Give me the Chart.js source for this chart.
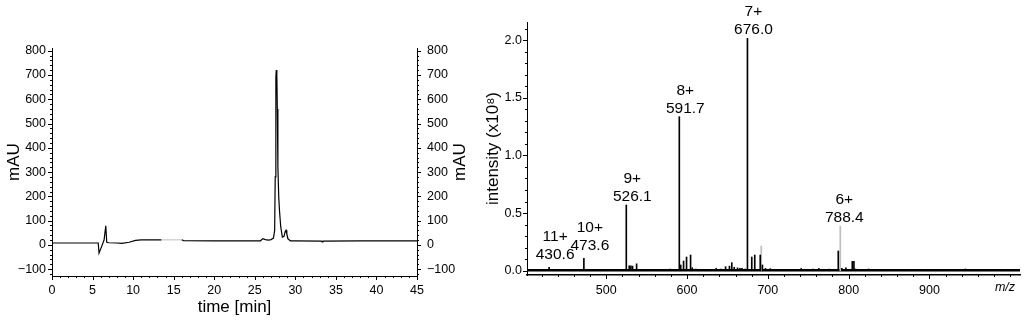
<!DOCTYPE html>
<html>
<head>
<meta charset="utf-8">
<script src="https://cdn.jsdelivr.net/npm/chart.js@4/dist/chart.umd.min.js"></script>
<style>
  body { margin: 0; background: #fff; width: 1024px; height: 322px; position: relative; overflow: hidden; }
  #lc { position: absolute; left: 0; top: 0; width: 480px; height: 322px; }
  #ms { position: absolute; left: 480px; top: 0; width: 544px; height: 322px; }
</style>
</head>
<body>
<div id="lc"><canvas id="lcChart"></canvas></div>
<div id="ms"><canvas id="msChart"></canvas></div>
<script>
// HPLC trace (time in min, absorbance in mAU)
const lcTime = [0, 2, 4, 5.7, 5.8, 6.1, 6.42, 6.63, 6.75, 7, 8, 8.6, 9.5, 10.3, 11, 13.5, 16, 16.2, 20, 25.7,
  26.0, 26.3, 26.7, 27.0, 27.3, 27.45, 27.52, 27.6, 27.65, 27.72, 27.78, 27.85, 27.95, 28.05, 28.2, 28.4,
  28.6, 28.75, 28.85, 28.95, 29.1, 29.4, 30, 33.2, 33.3, 33.4, 38, 45];
const lcAbs = [8, 8, 8, 8, -34, -8, 20, 79, 11, 9, 8, 6, 11, 19, 21, 21, 21, 18, 17, 17,
  26, 22, 20, 22, 28, 60, 280, 690, 720, 700, 560, 320, 200, 140, 75, 32,
  35, 55, 60, 45, 25, 17, 17, 16, 12, 16, 17, 17];
const lcXTicks = [0, 5, 10, 15, 20, 25, 30, 35, 40, 45];
const lcYTicks = [-100, 0, 100, 200, 300, 400, 500, 600, 700, 800];

// mass spectrum (m/z, intensity x1e8)
const msPeakMz = [430.6, 473.6, 526.1, 591.7, 676.0, 788.4];
const msPeakInt = [0.03, 0.107, 0.57, 1.336, 2.015, 0.171];
const msPeakCharge = ['11+', '10+', '9+', '8+', '7+', '6+'];
const msMinorMz = [408, 414, 419, 425, 436, 443, 449, 456, 462, 468, 479, 485, 491, 497, 504, 511, 517, 521,
  528.5, 530.6, 532.6, 537.6, 544, 551, 558, 566, 573, 579, 586, 592.2, 595.7, 599.4, 604.4, 606.5, 611,
  618, 625, 631, 636.1, 642, 647.7, 652.5, 655.4, 658.4, 662.5, 665.5, 668, 672, 680.1, 683.8, 690.6, 693.3,
  697, 703, 710, 717, 724, 731, 741.3, 748, 756, 763, 769, 776, 783, 791.6, 796.6, 804.5, 806.5, 808.6, 816,
  824.7, 833, 842, 851, 860, 869, 878, 887, 896, 905, 914, 923, 932, 944.4, 951, 958, 965, 973, 981, 990, 998, 1006];
const msMinorInt = [0.008, 0.01, 0.007, 0.012, 0.009, 0.008, 0.011, 0.007, 0.01, 0.008, 0.012, 0.009, 0.008, 0.01, 0.009, 0.011, 0.008, 0.01,
  0.043, 0.043, 0.04, 0.06, 0.012, 0.01, 0.009, 0.012, 0.01, 0.014, 0.011, 0.05, 0.084, 0.119, 0.136, 0.026, 0.015,
  0.012, 0.01, 0.012, 0.02, 0.014, 0.035, 0.04, 0.07, 0.03, 0.025, 0.02, 0.02, 0.015, 0.119, 0.136, 0.136, 0.05,
  0.02, 0.018, 0.012, 0.01, 0.012, 0.011, 0.02, 0.012, 0.015, 0.02, 0.012, 0.014, 0.012, 0.02, 0.025, 0.081, 0.081, 0.015, 0.012,
  0.015, 0.01, 0.009, 0.011, 0.01, 0.009, 0.012, 0.01, 0.009, 0.011, 0.01, 0.009, 0.012, 0.015, 0.011, 0.01, 0.012, 0.012, 0.01, 0.009, 0.011, 0.01];
const msGrayMz = [690.6, 788.4];
const msGrayInt = [0.214, 0.388];
const msFloorMz = [402, 1013];
const msFloorInt = [0.004, 0.004];
const msXTicks = [500, 600, 700, 800, 900];
const msYTicks = [0, 0.5, 1.0, 1.5, 2.0];

const FONT = 'Liberation Sans, Arial, Helvetica, sans-serif';
Chart.defaults.font.family = FONT;
Chart.defaults.color = '#000';

function fixTicks(list) {
  return function(scale) { scale.ticks = list.map(v => ({ value: v })); };
}

// small outward tick marks, major + minor
const tickMarks = {
  id: 'tickMarks',
  afterDraw(chart, args, opts) {
    const ctx = chart.ctx;
    ctx.save();
    ctx.strokeStyle = '#000';
    ctx.lineWidth = 1;
    (opts.axes || []).forEach(a => {
      const s = chart.scales[a.id];
      const first = Math.ceil(s.min / a.minor) * a.minor;
      for (let v = first; v <= s.max + 1e-9; v += a.minor) {
        const isMajor = a.major.some(m => Math.abs(m - v) < 1e-6);
        const len = isMajor ? 4 : 2;
        ctx.beginPath();
        if (s.isHorizontal()) {
          const x = Math.round(s.getPixelForValue(v)) + 0.5;
          ctx.moveTo(x, s.top); ctx.lineTo(x, s.top + len);
        } else {
          const y = Math.round(s.getPixelForValue(v)) + 0.5;
          if (s.position === 'left') { ctx.moveTo(s.right, y); ctx.lineTo(s.right - len, y); }
          else { ctx.moveTo(s.left, y); ctx.lineTo(s.left + len, y); }
        }
        ctx.stroke();
      }
    });
    ctx.restore();
  }
};

// right-hand axis title, reading bottom to top like the left one
const sideTitle = {
  id: 'sideTitle',
  afterDraw(chart, args, opts) {
    if (!opts.text) return;
    const s = chart.scales[opts.scale], ctx = chart.ctx;
    ctx.save();
    ctx.fillStyle = '#000';
    ctx.font = '17px ' + FONT;
    ctx.textAlign = 'center';
    ctx.textBaseline = 'middle';
    ctx.translate(s.right - opts.offset, (chart.chartArea.top + chart.chartArea.bottom) / 2);
    ctx.rotate(-Math.PI / 2);
    ctx.fillText(opts.text, 0, 0);
    ctx.restore();
  }
};

// peak labels and the m/z axis label
const peakLabels = {
  id: 'peakLabels',
  afterDatasetsDraw(chart) {
    const ctx = chart.ctx, xs = chart.scales.x, ys = chart.scales.y;
    ctx.save();
    ctx.fillStyle = '#000';
    ctx.textAlign = 'center';
    ctx.textBaseline = 'alphabetic';
    ctx.font = '15.5px ' + FONT;
    msPeakMz.forEach((mz, i) => {
      let top = msPeakInt[i];
      const g = msGrayMz.indexOf(mz);
      if (g >= 0) top = Math.max(top, msGrayInt[g]);
      const x = xs.getPixelForValue(mz) + 5;
      const y = ys.getPixelForValue(top) - (top < 0.2 ? 8 : 4);
      ctx.fillText(mz.toFixed(1), x, y);
      ctx.fillText(msPeakCharge[i], x, y - 18);
    });
    ctx.font = 'italic 12.5px ' + FONT;
    ctx.textBaseline = 'middle';
    ctx.fillText('m/z', xs.right - 15, xs.top + 13);
    ctx.restore();
  }
};

const lcTickCb = v => v < 0 ? '\u2212' + Math.abs(v) : String(v);

new Chart(document.getElementById('lcChart'), {
  type: 'line',
  data: {
    datasets: [{
      data: lcTime.map((t, i) => ({ x: t, y: lcAbs[i] })),
      borderColor: '#000',
      borderWidth: 1.2,
      pointRadius: 0,
      tension: 0,
      segment: { borderColor: c => (c.p0.parsed.x >= 13.5 && c.p0.parsed.x < 16) ? '#c8c8c8' : '#000' }
    }]
  },
  options: {
    responsive: true,
    maintainAspectRatio: false,
    animation: false,
    layout: { padding: { top: 48 } },
    plugins: {
      legend: { display: false },
      tooltip: { enabled: false },
      sideTitle: { scale: 'y2', text: 'mAU', offset: 20 },
      tickMarks: { axes: [
        { id: 'x', minor: 1, major: lcXTicks },
        { id: 'y', minor: 20, major: lcYTicks },
        { id: 'y2', minor: 20, major: lcYTicks }
      ] }
    },
    scales: {
      x: {
        type: 'linear', min: 0, max: 45,
        grid: { display: false, drawTicks: false },
        border: { display: true, color: '#000', width: 1 },
        afterBuildTicks: fixTicks(lcXTicks),
        afterFit: s => { s.height = 46; },
        ticks: { font: { size: 12.5 }, padding: 7, maxRotation: 0 },
        title: { display: true, text: 'time [min]', font: { size: 17 }, padding: { bottom: 4 } }
      },
      y: {
        position: 'left', min: -128, max: 811,
        grid: { display: false, drawTicks: false },
        border: { display: true, color: '#000', width: 1, dash: [1, 2] },
        afterBuildTicks: fixTicks(lcYTicks),
        afterFit: s => { s.width = 52; },
        ticks: { font: { size: 12.5 }, padding: 6, callback: lcTickCb },
        title: { display: true, text: 'mAU', font: { size: 17 }, padding: { top: 4 } }
      },
      y2: {
        position: 'right', min: -128, max: 811,
        grid: { display: false, drawTicks: false },
        border: { display: true, color: '#000', width: 1, dash: [1, 2] },
        afterBuildTicks: fixTicks(lcYTicks),
        afterFit: s => { s.width = 63; },
        ticks: { font: { size: 12.5 }, padding: 10, callback: lcTickCb }
      }
    }
  },
  plugins: [tickMarks, sideTitle]
});

new Chart(document.getElementById('msChart'), {
  type: 'bar',
  data: {
    datasets: [
      { type: 'line', data: msFloorMz.map((m, i) => ({ x: m, y: msFloorInt[i] })), borderColor: '#000', borderWidth: 2.5, pointRadius: 0, order: 3 },
      { data: msGrayMz.map((m, i) => ({ x: m, y: msGrayInt[i] })), backgroundColor: '#bdbdbd', barThickness: 1, order: 2 },
      { data: msMinorMz.map((m, i) => ({ x: m, y: msMinorInt[i] })), backgroundColor: '#000', barThickness: 1, order: 1 },
      { data: msPeakMz.map((m, i) => ({ x: m, y: msPeakInt[i] })), backgroundColor: '#000', barThickness: 1, order: 0 }
    ]
  },
  options: {
    responsive: true,
    maintainAspectRatio: false,
    animation: false,
    layout: { padding: { top: 22, right: 4 } },
    plugins: {
      legend: { display: false },
      tooltip: { enabled: false },
      tickMarks: { axes: [
        { id: 'x', minor: 20, major: msXTicks },
        { id: 'y', minor: 0.1, major: msYTicks }
      ] }
    },
    scales: {
      x: {
        type: 'linear', min: 402, max: 1012, offset: false,
        grid: { display: false, drawTicks: false, offset: false },
        border: { display: true, color: '#000', width: 1.5 },
        afterBuildTicks: fixTicks(msXTicks),
        afterFit: s => { s.height = 47; },
        ticks: { font: { size: 12.5 }, padding: 8, maxRotation: 0 }
      },
      y: {
        min: -0.037, max: 2.157,
        grid: { display: false, drawTicks: false },
        border: { display: true, color: '#000', width: 1 },
        afterBuildTicks: fixTicks(msYTicks),
        afterFit: s => { s.width = 47; },
        ticks: { font: { size: 12.5 }, padding: 5, callback: v => v.toFixed(1) },
        title: { display: true, text: 'intensity (x10\u2078)', font: { size: 17 }, padding: { top: 3 } }
      }
    }
  },
  plugins: [tickMarks, peakLabels]
});
</script>
</body>
</html>
